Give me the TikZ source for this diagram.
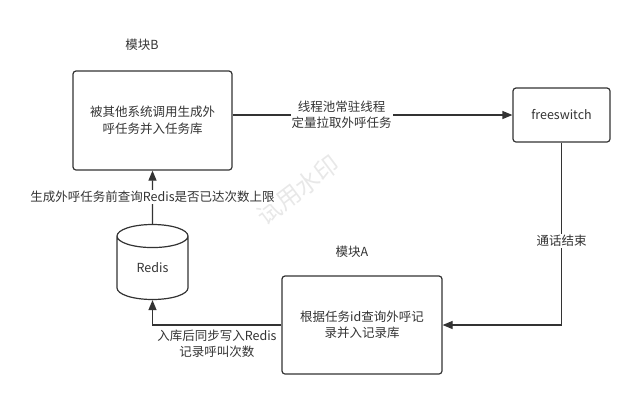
\documentclass[tikz,border=0pt]{standalone}
\usepackage{fontspec}
\setmainfont{Noto Sans CJK SC}
\usetikzlibrary{shapes.geometric, arrows.meta}
\definecolor{ink}{RGB}{51,51,51}
\definecolor{mark_gray}{RGB}{232,232,232}

\begin{document}
\begin{tikzpicture}[x=1pt, y=-1pt,
    % Module box style
    module/.style={
        rectangle,
        rounded corners=3pt,
        line width=1.2pt,
        draw=ink,
        text=ink,
        align=center,
        font=\fontsize{12.5}{16.5}\selectfont
    },
    % Redis store style
    store/.style={
        cylinder,
        shape border rotate=90,
        aspect=0.6,
        line width=1.2pt,
        draw=ink,
        text=ink,
        minimum width=71pt,
        minimum height=75pt,
        font=\fontsize{12.5}{16.5}\selectfont
    },
    % Plain caption style
    caption/.style={
        text=ink,
        align=center,
        inner sep=1pt,
        font=\fontsize{12.5}{16.5}\selectfont
    },
    % Connection style
    connect/.style={
        -{Triangle[length=10pt, width=8pt]},
        line width=1.2pt,
        draw=ink
    }
]
\useasboundingbox (0,0) rectangle (635,400);

% Watermark
\node[text=mark_gray, rotate=37, font=\fontsize{24}{24}\selectfont] (mark) at (298,190) {试用水印};

% Module names
\node[caption] (nameB) at (142,45) {模块B};
\node[caption] (nameA) at (352,252) {模块A};

% Boxes
\node[module, minimum width=159pt, minimum height=99pt] (boxB) at (152.5,120.5) {被其他系统调用生成外\\呼任务并入任务库};
\node[module, minimum width=97pt, minimum height=54pt] (fs) at (561.5,115) {freeswitch};
\node[module, minimum width=160pt, minimum height=98pt] (boxA) at (362,325) {根据任务id查询外呼记\\录并入记录库};
\node[store] (redis) at (152.5,270.5) {\raisebox{6pt}{Redis}};

% Connections
\draw[connect] (boxB.east |- fs.west) -- node[caption, pos=0.39, fill=white] {线程池常驻线程\\定量拉取外呼任务} (fs.west);

\draw[connect] (fs.south) |- node[caption, pos=0.27, fill=white] {通话结束} (boxA.east);

\draw[connect] (boxA.west) -| node[caption, pos=0.25, below, inner sep=4pt] {入库后同步写入Redis\\记录呼叫次数} (redis.south);

\draw[connect] (redis.north) -- node[caption, fill=white] {生成外呼任务前查询Redis是否已达次数上限} (boxB.south);

\end{tikzpicture}
\end{document}
